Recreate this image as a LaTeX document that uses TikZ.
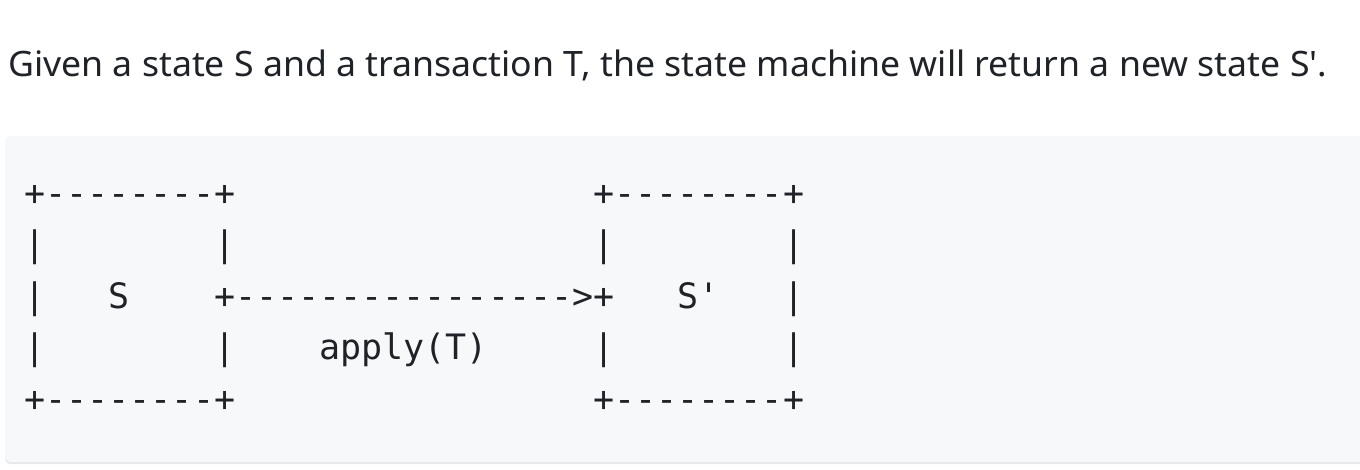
\documentclass[tikz,border=0pt]{standalone}
\usepackage{fontspec}
\setmainfont{Noto Sans}[Ligatures=TeXOff]
\newfontfamily\codefont{DejaVu Sans Mono}[Ligatures=TeXOff]
\definecolor{ink}{HTML}{1F2328}
\definecolor{codebg}{HTML}{F6F8FA}
\definecolor{codeshadow}{HTML}{E6E8EB}
\begin{document}
\begin{tikzpicture}[x=1pt,y=-1pt,
  code/.style={anchor=base west,inner sep=0pt,outer sep=0pt,text=ink,
    font=\codefont\fontsize{35}{35}\selectfont},
  prose/.style={anchor=base west,inner sep=0pt,text=ink,
    font=\fontsize{35}{35}\selectfont}]
\useasboundingbox (0,0) rectangle (1360,469);
\fill[white] (0,0) rectangle (1360,469);
% code block background
\fill[codeshadow,rounded corners=6pt] (5,138) rectangle (1390,464);
\fill[codebg,rounded corners=6pt] (5,136) rectangle (1390,462);
% prose line
\node[prose] (intro) at (8,76.5) {\resizebox{1319pt}{\height}{Given a state S and a transaction T, the state machine will return a new state S'.}};
% grid helpers: column pitch 21.07, left edge 24.5; baselines
\def\px#1{24.5+21.07*#1}
% row 0
\node[code] (r0a) at ({\px{0}},205) {+--------+};
\node[code] (r0b) at ({\px{27}},205) {+--------+};
% row 1
\node[code] (r1a) at ({\px{0}},256.5) {|};
\node[code] (r1b) at ({\px{9}},256.5) {|};
\node[code] (r1c) at ({\px{27}},256.5) {|};
\node[code] (r1d) at ({\px{36}},256.5) {|};
% row 2
\node[code] (r2a) at ({\px{0}},308) {|};
\node[code] (sS) at ({\px{4}},308) {S};
\node[code] (arrow) at ({\px{9}},308) {+---------------->+};
\node[code] (sSp) at ({\px{31}},308) {S'};
\node[code] (r2d) at ({\px{36}},308) {|};
% row 3
\node[code] (r3a) at ({\px{0}},359.5) {|};
\node[code] (r3b) at ({\px{9}},359.5) {|};
\node[code] (lbl) at ({\px{14}},359.5) {apply(T)};
\node[code] (r3c) at ({\px{27}},359.5) {|};
\node[code] (r3d) at ({\px{36}},359.5) {|};
% row 4
\node[code] (r4a) at ({\px{0}},411) {+--------+};
\node[code] (r4b) at ({\px{27}},411) {+--------+};
\end{tikzpicture}
\end{document}
